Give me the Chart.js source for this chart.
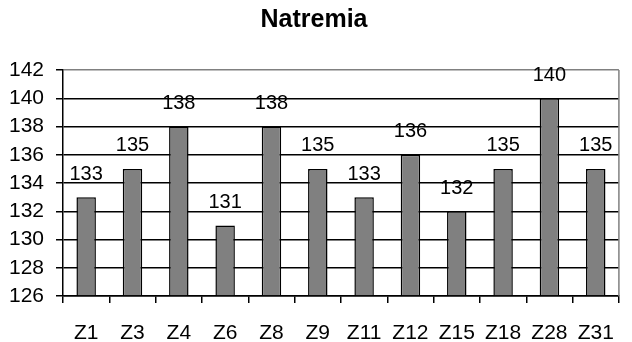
<!DOCTYPE html>
<html>
<head>
<meta charset="utf-8">
<title>Natremia</title>
<script src="https://cdn.jsdelivr.net/npm/chart.js@4/dist/chart.umd.min.js"></script>
<style>
  html, body { margin: 0; padding: 0; background: #ffffff; }
  #wrap { width: 632px; height: 342px; position: relative; }
</style>
</head>
<body>
<div id="wrap"><canvas id="chart" width="632" height="342"></canvas></div>
<script>
// Sodium levels per subject
const categories = ['Z1', 'Z3', 'Z4', 'Z6', 'Z8', 'Z9', 'Z11', 'Z12', 'Z15', 'Z18', 'Z28', 'Z31'];
const natremia = [133, 135, 138, 131, 138, 135, 133, 136, 132, 135, 140, 135];
const yTicks = [126, 128, 130, 132, 134, 136, 138, 140, 142];

const FONT = '"Liberation Sans", Arial, Helvetica, sans-serif';

// Value labels above each bar
const valueLabels = {
  id: 'valueLabels',
  afterDatasetsDraw(chart) {
    const ctx = chart.ctx;
    const meta = chart.getDatasetMeta(0);
    ctx.save();
    ctx.font = '20px ' + FONT;
    ctx.fillStyle = '#000000';
    ctx.textAlign = 'center';
    ctx.textBaseline = 'middle';
    meta.data.forEach((bar, i) => {
      ctx.fillText(String(natremia[i]), bar.x, bar.y - 23);
    });
    ctx.restore();
  }
};

// Grey frame line on the right side of the plot area
const plotFrame = {
  id: 'plotFrame',
  beforeDatasetsDraw(chart) {
    const { ctx, chartArea } = chart;
    ctx.save();
    ctx.strokeStyle = '#808080';
    ctx.lineWidth = 1.5;
    ctx.beginPath();
    ctx.moveTo(chartArea.right, chartArea.top);
    ctx.lineTo(chartArea.right, chartArea.bottom);
    ctx.stroke();
    ctx.restore();
  }
};

new Chart(document.getElementById('chart'), {
  type: 'bar',
  data: {
    labels: categories,
    datasets: [{
      data: natremia,
      backgroundColor: '#808080',
      borderColor: '#000000',
      borderWidth: 1.5,
      categoryPercentage: 1.0,
      barPercentage: 0.42,
      base: 126
    }]
  },
  options: {
    responsive: false,
    animation: false,
    devicePixelRatio: 1,
    layout: { padding: { left: 0, right: 4, top: 0, bottom: 0 } },
    plugins: {
      legend: { display: false },
      tooltip: { enabled: false },
      title: {
        display: true,
        text: 'Natremia',
        color: '#000000',
        font: { family: FONT, size: 25, weight: 'bold' },
        padding: { top: 5, bottom: 35 }
      }
    },
    scales: {
      x: {
        grid: {
          offset: true,
          drawOnChartArea: false,
          color: '#000000',
          tickLength: 7,
          lineWidth: 1.5
        },
        border: { color: '#000000', width: 1.5 },
        ticks: {
          color: '#000000',
          font: { family: FONT, size: 21 },
          padding: 18,
          maxRotation: 0,
          autoSkip: false
        },
        afterFit(scale) { scale.height = 46; }
      },
      y: {
        min: 126,
        max: 142,
        afterBuildTicks(scale) {
          scale.ticks = yTicks.map(v => ({ value: v }));
        },
        grid: {
          color: (c) => (c.tick && c.tick.value === 142 ? '#808080' : '#000000'),
          tickColor: '#000000',
          tickLength: 7,
          lineWidth: 1.5
        },
        border: { color: '#000000', width: 1.5 },
        ticks: {
          color: '#000000',
          font: { family: FONT, size: 21 },
          padding: 12
        },
        afterFit(scale) { scale.width = 63; }
      }
    }
  },
  plugins: [plotFrame, valueLabels]
});
</script>
</body>
</html>
